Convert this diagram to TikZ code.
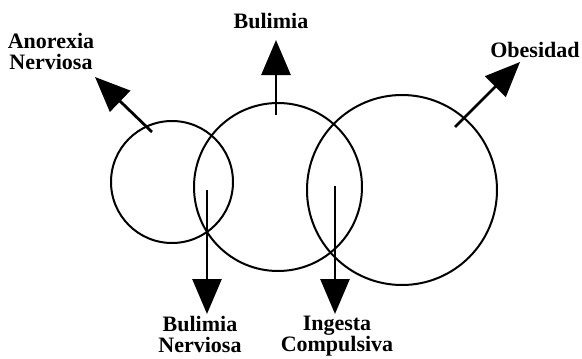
\documentclass[tikz,border=0pt]{standalone}
\usepackage{fontspec}
\setmainfont{Liberation Serif}
\usetikzlibrary{arrows.meta}
\begin{document}
\begin{tikzpicture}[x=1pt,y=-1pt,
  ring/.style={draw,circle,line width=2pt,inner sep=0pt},
  label/.style={inner sep=0pt,align=center,font=\bfseries\fontsize{22}{21}\selectfont},
  bigarrow/.style={line width=2.8pt,-{Triangle[length=35pt,width=29pt]}}]
\useasboundingbox (0,0) rectangle (582,359);
\node[ring,minimum size=122pt] (c1) at (172,182) {};
\node[ring,minimum size=168pt] (c2) at (278,187) {};
\node[ring,minimum size=190pt] (c3) at (402,190) {};
\node[label] (an) at (51,51) {Anorexia\\Nerviosa};
\node[label] (bu) at (271,21) {Bulimia};
\node[label] (ob) at (535,50) {Obesidad};
\node[label,anchor=north] (bn) at (200,316) {Bulimia\\Nerviosa};
\node[label,anchor=north] (ic) at (337,316) {Ingesta\\Compulsiva};
\coordinate (s1) at (152,132); \coordinate (t1) at (95,77);
\coordinate (s2) at (276,115); \coordinate (t2) at (276,40);
\coordinate (s3) at (455,127); \coordinate (t3) at (520,62);
\coordinate (s4) at (207,190); \coordinate (t4) at (207,314);
\coordinate (s5) at (335,186); \coordinate (t5) at (335,314);
\draw[bigarrow] (s1) -- (t1);
\draw[bigarrow] (s2) -- (t2);
\draw[bigarrow] (s3) -- (t3);
\draw[bigarrow] (s4) -- (t4);
\draw[bigarrow] (s5) -- (t5);
\end{tikzpicture}
\end{document}
